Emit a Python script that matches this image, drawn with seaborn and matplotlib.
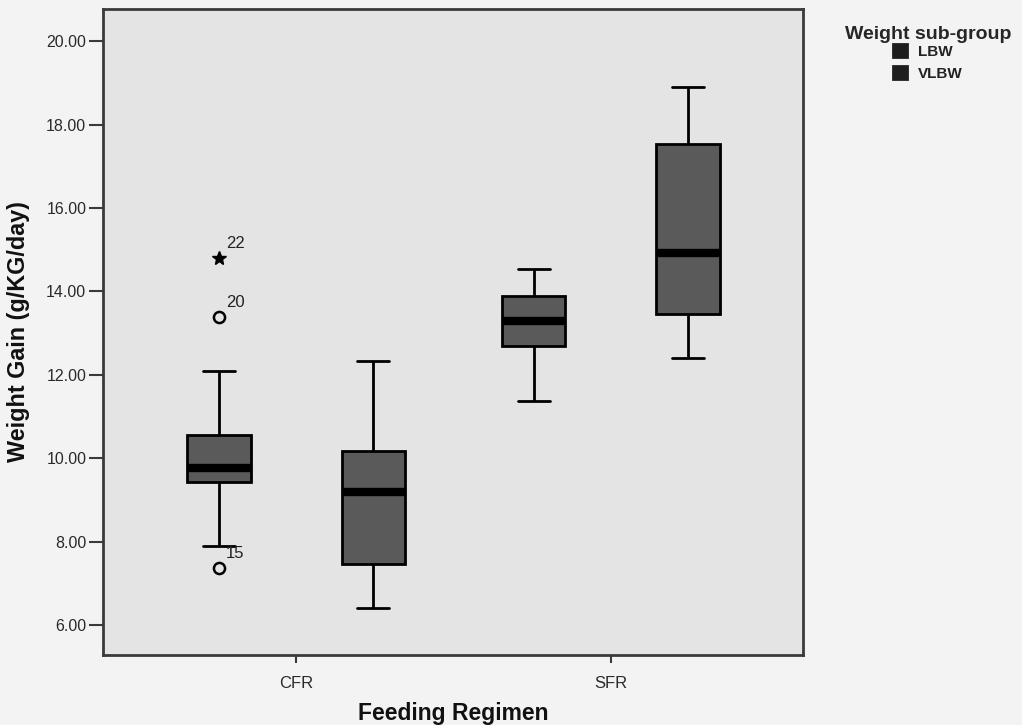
import matplotlib
matplotlib.use("Agg")
import matplotlib.pyplot as plt
import seaborn as sns
import pandas as pd
import numpy as np
from matplotlib.ticker import FormatStrFormatter

# ---- data ----
regimens = ["CFR", "CFR", "SFR", "SFR"]
subgroups = ["LBW", "VLBW", "LBW", "VLBW"]
lower_whisker = [7.89, 6.40, 11.37, 12.41]
q1 = [9.42, 7.47, 12.69, 13.45]
median = [9.76, 9.19, 13.29, 14.92]
q3 = [10.55, 10.17, 13.88, 17.53]
upper_whisker = [12.09, 12.33, 14.54, 18.89]

outlier_regimen = ["CFR", "CFR", "CFR"]
outlier_group = ["LBW", "LBW", "LBW"]
outlier_value = [14.80, 13.38, 7.36]
outlier_case = ["22", "20", "15"]
outlier_marker = ["*", "o", "o"]

regimen_order = ["CFR", "SFR"]
group_order = ["LBW", "VLBW"]
y_ticks = [6, 8, 10, 12, 14, 16, 18, 20]

# long-form frame: the five summary numbers of each box
rows = []
for r, g, a, b, c, d, e in zip(regimens, subgroups, lower_whisker, q1, median, q3, upper_whisker):
    for v in (a, b, c, d, e):
        rows.append({"Feeding Regimen": r, "Weight sub-group": g, "Weight Gain": v})
df = pd.DataFrame(rows)

sns.set_theme(style="white")
plt.rcParams["font.family"] = ["Liberation Sans", "DejaVu Sans"]

fig = plt.figure(figsize=(10.22, 7.25), dpi=100, facecolor="#f3f3f3")
ax = fig.add_axes([103 / 1022, 1 - 655 / 725, 700 / 1022, 646 / 725])
ax.set_facecolor("#e4e4e4")

box_color = "#5a5a5a"
width = 0.98
gap = 0.59
sns.boxplot(
    data=df, x="Feeding Regimen", y="Weight Gain", hue="Weight sub-group",
    order=regimen_order, hue_order=group_order,
    palette=[box_color, box_color], saturation=1,
    width=width, gap=gap, whis=1.5, showfliers=False,
    linewidth=2, linecolor="black",
    medianprops={"linewidth": 6, "color": "black", "solid_capstyle": "butt"},
    whiskerprops={"linewidth": 2, "color": "black"},
    capprops={"linewidth": 2, "color": "black"},
    boxprops={"edgecolor": "black", "linewidth": 2},
    ax=ax,
)

# outliers (dodged onto the LBW box)
slot = width / len(group_order)
for r, g, v, lab, m in zip(outlier_regimen, outlier_group, outlier_value, outlier_case, outlier_marker):
    xpos = regimen_order.index(r) + (group_order.index(g) - 0.5) * slot
    if m == "o":
        ax.plot(xpos, v, marker="o", ms=8, mfc="none", mec="black", mew=1.8, ls="none")
    else:
        ax.plot(xpos, v, marker="*", ms=10, color="black", ls="none")
    ax.annotate(lab, (xpos, v), xytext=(5, 5), textcoords="offset points",
                fontsize=12, color="#222222", ha="left", va="bottom")

ax.set_xlim(-0.613, 1.61)
ax.set_ylim(5.28, 20.77)
ax.set_yticks(y_ticks)
ax.yaxis.set_major_formatter(FormatStrFormatter("%.2f"))

for s in ax.spines.values():
    s.set_color("#3a3a3a")
    s.set_linewidth(2)

ax.tick_params(axis="y", which="major", left=True, length=10, width=1.5,
               color="#3a3a3a", labelsize=11.5, labelcolor="#2a2a2a", pad=2)
ax.tick_params(axis="x", which="major", bottom=True, length=6, width=1.5,
               color="#3a3a3a", labelsize=12, labelcolor="#2a2a2a", pad=9)

ax.set_xlabel("Feeding Regimen", fontsize=16.5, fontweight="bold", color="#111111", labelpad=8)
ax.set_ylabel("Weight Gain (g/KG/day)", fontsize=16.8, fontweight="bold", color="#111111", labelpad=12)

handles, labels = ax.get_legend_handles_labels()
if ax.get_legend() is not None:
    ax.get_legend().remove()
leg = fig.legend(
    handles, labels, title="Weight sub-group", loc="upper right",
    bbox_to_anchor=(0.997, 0.975), frameon=False, fontsize=11,
    title_fontproperties={"weight": "bold", "size": 14},
    handlelength=0.9, handleheight=0.9, handletextpad=0.75,
    labelspacing=0.5, borderpad=0.0, alignment="center",
)
leg._legend_box.sep = 1
for h in leg.legend_handles:
    h.set_facecolor("#1e1e1e")
    h.set_edgecolor("#1e1e1e")
for t in leg.get_texts():
    t.set_color("#222222")
    t.set_fontweight("bold")

fig.savefig("out.png", dpi=100, facecolor=fig.get_facecolor())
